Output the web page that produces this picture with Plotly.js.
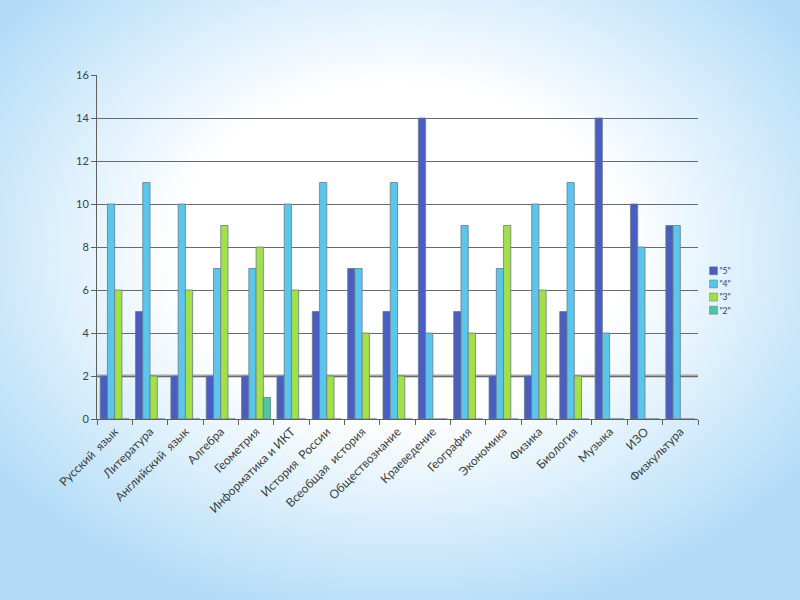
<!DOCTYPE html>
<html>
<head>
<meta charset="utf-8">
<script src="https://cdn.plot.ly/plotly-3.0.1.min.js"></script>
<style>
html, body { margin:0; padding:0; width:800px; height:600px; overflow:hidden; }
body { background: radial-gradient(ellipse 62% 62% at 50% 42%, #ffffff 0%, #ffffff 45%, #d9eefc 72%, #b3dcf7 100%); }
#chart { width:800px; height:600px; }
</style>
</head>
<body>
<div id="chart"></div>
<script>
const categories = ["Русский  язык","Литература","Английский  язык","Алгебра","Геометрия","Информатика и ИКТ","История  России","Всеобщая  история","Обществознание","Краеведение","География","Экономика","Физика","Биология","Музыка","ИЗО","Физкультура"];
const grade5 = [2,5,2,2,2,2,5,7,5,14,5,2,2,5,14,10,9];
const grade4 = [10,11,10,7,7,10,11,7,11,4,9,7,10,11,4,8,9];
const grade3 = [6,2,6,9,8,6,2,4,2,0,4,9,6,2,0,0,0];
const grade2 = [0,0,0,0,1,0,0,0,0,0,0,0,0,0,0,0,0];
const seriesNames = ['"5"','"4"','"3"','"2"'];
const seriesColors = ['#4a5dc0','#5bc6ec','#a2e04a','#4ec6a2'];
const yTicks = [0,2,4,6,8,10,12,14,16];

const seriesData = [grade5, grade4, grade3, grade2];
const traces = seriesData.map((vals, i) => ({
  type: 'bar',
  name: seriesNames[i],
  x: categories,
  y: vals,
  marker: { color: seriesColors[i], line: { color: '#6b7a88', width: 0.8 } },
  hoverinfo: 'x+y+name'
}));

const layout = {
  width: 800, height: 600,
  paper_bgcolor: 'rgba(0,0,0,0)',
  plot_bgcolor: 'rgba(0,0,0,0)',
  margin: { l: 97, r: 102, t: 75, b: 181 },
  barmode: 'group',
  bargap: 0.18,
  bargroupgap: 0,
  font: { family: 'Lato, "Noto Sans", sans-serif', size: 11, color: '#404040' },
  xaxis: {
    type: 'category',
    tickangle: -45,
    tickson: 'boundaries',
    ticks: 'outside', ticklen: 5, tickcolor: '#606060',
    showline: true, linecolor: '#606060', linewidth: 1,
    showgrid: false,
    tickfont: { size: 12, color: '#404040' },
    automargin: false
  },
  yaxis: {
    range: [0, 16],
    tickvals: yTicks,
    ticks: 'outside', ticklen: 5, tickcolor: '#606060',
    showline: true, linecolor: '#606060', linewidth: 1,
    showgrid: true, gridcolor: '#6a6a6a', gridwidth: 1,
    zeroline: false,
    tickfont: { size: 11, color: '#404040' },
    automargin: false
  },
  shapes: [{
    type: 'line', xref: 'paper', yref: 'y', x0: 0, x1: 1, y0: 2, y1: 2,
    line: { color: '#a8a8a8', width: 3 }, layer: 'below'
  }],
  legend: {
    x: 1.02, xanchor: 'left', y: 0.5, yanchor: 'middle',
    bgcolor: 'rgba(0,0,0,0)',
    font: { size: 13, color: '#404040' },
    itemwidth: 30, tracegroupgap: 0
  },
  showlegend: true
};

Plotly.newPlot('chart', traces, layout, { displayModeBar: false, staticPlot: true }).then(() => {
  // Compact the legend to match the reference's small legend
  const lg = document.querySelector('.legend');
  if (!lg) return;
  const m = /translate\(([-\d.]+)[ ,]+([-\d.]+)\)/.exec(lg.getAttribute('transform') || '');
  const a = m ? parseFloat(m[1]) : 0, b = m ? parseFloat(m[2]) : 0;
  const s = 0.66;
  lg.setAttribute('transform', `translate(${a},${b}) scale(${s})`);
  const first = lg.querySelector('.legendpoints path');
  if (first) {
    const r = first.getBoundingClientRect();
    const items = lg.querySelectorAll('.traces');
    const last = items[items.length - 1].querySelector('.legendpoints path').getBoundingClientRect();
    const cx = (r.left + r.right) / 2, cy = (r.top + last.bottom) / 2;
    const dx = 713.5 - cx, dy = 290.5 - cy;
    lg.setAttribute('transform', `translate(${a + dx},${b + dy}) scale(${s})`);
  }
  lg.querySelectorAll('.legendtext').forEach(t => {
    t.setAttribute('x', parseFloat(t.getAttribute('x')) - 11);
  });
});
</script>
</body>
</html>
